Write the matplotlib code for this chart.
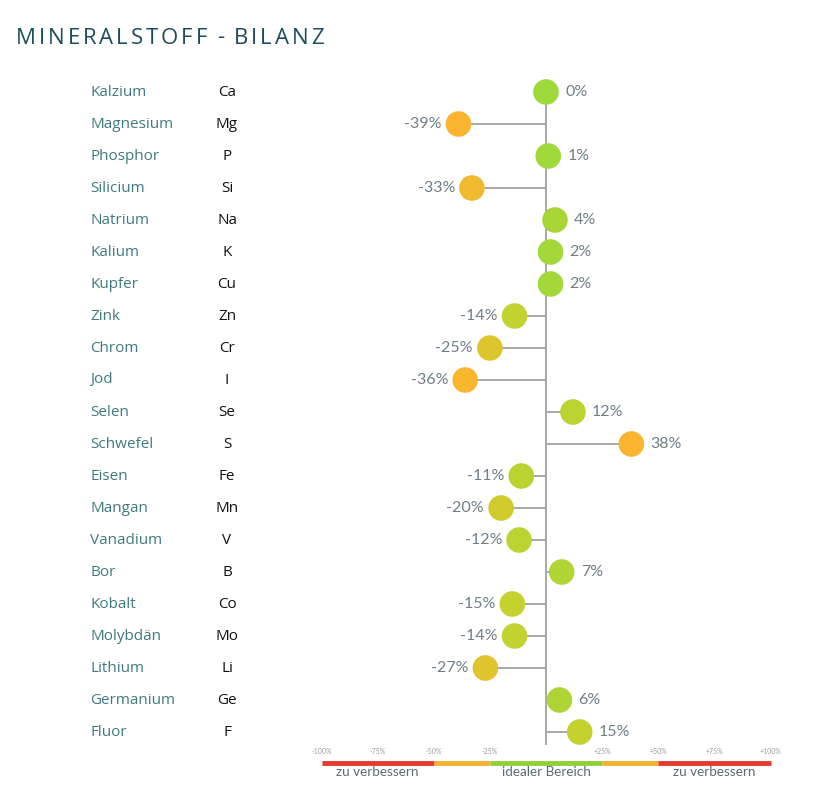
import matplotlib
matplotlib.use("Agg")
import matplotlib.pyplot as plt
from matplotlib.colors import LinearSegmentedColormap

# Daten
namen = ["Kalzium", "Magnesium", "Phosphor", "Silicium", "Natrium", "Kalium",
         "Kupfer", "Zink", "Chrom", "Jod", "Selen", "Schwefel", "Eisen",
         "Mangan", "Vanadium", "Bor", "Kobalt", "Molybdän", "Lithium",
         "Germanium", "Fluor"]
symbole = ["Ca", "Mg", "P", "Si", "Na", "K", "Cu", "Zn", "Cr", "I", "Se", "S",
           "Fe", "Mn", "V", "B", "Co", "Mo", "Li", "Ge", "F"]
werte = [0, -39, 1, -33, 4, 2, 2, -14, -25, -36, 12, 38, -11, -20, -12, 7,
         -15, -14, -27, 6, 15]
skala_ticks = [-100, -75, -50, -25, 25, 50, 75, 100]
skala_labels = ["-100%", "-75%", "-50%", "-25%", "+25%", "+50%", "+75%", "+100%"]
bereiche = [(-100, -50, "#e5392f"), (-50, -25, "#f4b12f"), (-25, 25, "#8fcf3a"),
            (25, 50, "#f4b12f"), (50, 100, "#e5392f")]
bereich_pos = [-75, 0, 75]
bereich_texte = ["zu verbessern", "idealer Bereich", "zu verbessern"]

W, H = 838, 801
x0, px_pro_prozent = 546, 2.245
y0, zeilen_abstand = 92, 32

fig = plt.figure(figsize=(W / 100, H / 100), dpi=100)
ax = fig.add_axes([0, 0, 1, 1])
ax.set_xlim(-x0 / px_pro_prozent, (W - x0) / px_pro_prozent)
ax.set_ylim((H - y0) / zeilen_abstand, -y0 / zeilen_abstand)
ax.axis("off")

def px(x):
    return (x - x0) / px_pro_prozent

def py(y):
    return (y - y0) / zeilen_abstand

cmap = LinearSegmentedColormap.from_list(
    "bilanz", [(0, "#9fd83a"), (0.35, "#c2d22f"), (0.62, "#dcc52d"),
               (0.75, "#e6c02c"), (0.9, "#f8b52e"), (1, "#fbb430")])

zeilen = list(range(len(namen)))
ax.vlines(0, py(80), py(745), color="#a8a8a8", lw=1.4, zorder=1)
ax.hlines(zeilen, 0, werte, color="#a8a8a8", lw=1.4, zorder=1)
farben = [cmap(min(abs(v) / 40, 1)) for v in werte]
ax.scatter(werte, zeilen, s=340, c=farben, zorder=3, linewidths=0)

for i, v in enumerate(werte):
    if v < 0:
        ax.annotate(f"{v}%", (v, i), xytext=(-17, 0), textcoords="offset pixels",
                    ha="right", va="center", fontsize=11.5, color="#6f7f86",
                    family="Lato")
    else:
        ax.annotate(f"{v}%", (v, i), xytext=(19, 0), textcoords="offset pixels",
                    ha="left", va="center", fontsize=11.5, color="#6f7f86",
                    family="Lato")
    ax.text(px(90), i, namen[i], ha="left", va="center", fontsize=11,
            color="#3f7a80", family="Open Sans")
    ax.text(px(227), i, symbole[i], ha="center", va="center", fontsize=11,
            color="#111111", family="Open Sans")

# Skala unten
for a, b, c in bereiche:
    ax.plot([a, b], [py(763), py(763)], color=c, lw=3.5, solid_capstyle="butt")
for t, l in zip(skala_ticks, skala_labels):
    ax.text(t, py(752), l, ha="center", va="center", fontsize=5, color="#9a9a9a",
            family="Lato")
for t, l in zip(bereich_pos, bereich_texte):
    ax.text(t, py(772), l, ha="center", va="center", fontsize=9.7, color="#5c6b70",
            family="Lato")

# Titel mit Buchstabenabstand
titel = "MINERALSTOFF - BILANZ"
renderer = fig.canvas.get_renderer()
x = 16
for ch in titel:
    t = fig.text(x / W, 1 - 38 / H, ch, fontsize=16, color="#1d4d5a",
                 family="Open Sans", va="center", ha="left")
    bb = t.get_window_extent(renderer=renderer)
    if ch == " ":
        x += 7
    else:
        x += bb.width + 2.9

fig.savefig("out.png", dpi=100, facecolor="white")
